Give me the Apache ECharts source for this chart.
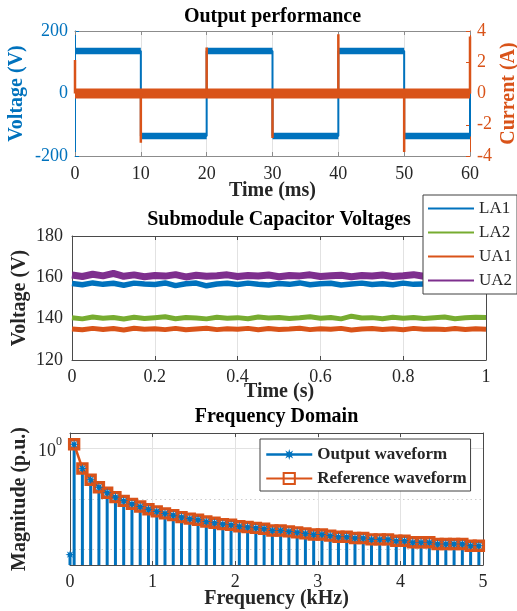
<!DOCTYPE html>
<html><head><meta charset="utf-8">
<script src="https://cdn.jsdelivr.net/npm/echarts@6/dist/echarts.min.js"></script>
<style>html,body{margin:0;padding:0;background:#fff}#c{width:517px;height:611px}</style>
</head><body><div id="c"></div>
<script>
// ---------------- DATA ----------------
// Output performance (top)
const switchTimes = [0, 10, 20, 30, 40, 50, 60];           // ms
const voltageLevels = [136, -136, 136, -136, 136, -136];    // V, one per 10 ms interval
const voltageEnd = 0;                                       // visible end of the last edge at 60 ms
const currentSpikes = [2.15, -3.15, 2.95, -2.85, 3.8, -3.75, 3.65]; // A, at each switch time
const currentBase = 0;                                      // A

// Submodule capacitor voltages (middle)
const capTime = [0,0.025,0.05,0.075,0.1,0.125,0.15,0.175,0.2,0.225,0.25,0.275,0.3,0.325,0.35,0.375,0.4,0.425,0.45,0.475,0.5,0.525,0.55,0.575,0.6,0.625,0.65,0.675,0.7,0.725,0.75,0.775,0.8,0.825,0.85,0.875,0.9,0.925,0.95,0.975,1];
const LA1 = [157.0,156.4,157.3,156.6,157.1,156.2,157.2,156.8,156.5,157.3,156.0,156.9,157.2,155.9,156.8,157.1,156.5,157.2,156.7,156.3,157.0,156.6,157.3,156.4,156.9,157.1,156.3,156.8,157.2,156.5,156.9,156.4,157.2,156.6,156.8,157.0,156.3,156.9,156.5,157.0,156.6];
const LA2 = [140.4,139.9,140.8,140.2,140.6,139.8,140.7,140.1,140.5,140.9,140.0,140.6,140.3,139.9,140.7,140.2,140.5,140.0,140.8,140.3,140.6,140.1,140.4,140.9,140.2,140.6,139.9,141.2,140.3,140.5,140.0,140.7,140.2,140.6,140.1,140.5,140.8,140.0,140.4,140.7,140.6];
const UA1 = [135.0,134.6,135.3,134.8,135.2,134.5,135.4,134.9,135.1,134.7,135.3,134.6,135.0,135.4,134.7,135.1,134.9,135.3,134.6,135.2,134.8,135.0,135.4,134.7,135.1,134.9,135.3,134.5,135.0,135.2,134.8,135.1,134.6,135.3,134.9,135.0,134.7,135.2,134.8,135.1,134.9];
const UA2 = [161.1,160.4,161.5,160.7,161.9,160.5,161.2,160.3,160.9,160.6,161.3,160.2,161.0,160.5,160.8,161.2,160.4,160.9,160.6,161.1,160.3,160.9,160.7,161.2,160.4,160.8,161.0,160.3,160.9,160.6,161.1,160.4,160.8,161.3,160.5,160.7,160.9,160.3,160.6,160.8,160.4];
const capNames = ['LA1', 'LA2', 'UA1', 'UA2'];

// Frequency domain (bottom)
const harmFreq = [0.05,0.15,0.25,0.35,0.45,0.55,0.65,0.75,0.85,0.95,1.05,1.15,1.25,1.35,1.45,1.55,1.65,1.75,1.85,1.95,2.05,2.15,2.25,2.35,2.45,2.55,2.65,2.75,2.85,2.95,3.05,3.15,3.25,3.35,3.45,3.55,3.65,3.75,3.85,3.95,4.05,4.15,4.25,4.35,4.45,4.55,4.65,4.75,4.85,4.95]; // kHz
const refMag = [1.2,0.4,0.24,0.171,0.133,0.109,0.092,0.08,0.071,0.063,0.057,0.052,0.048,0.044,0.041,0.039,0.036,0.034,0.032,0.031,0.029,0.028,0.027,0.026,0.024,0.024,0.023,0.022,0.021,0.020,0.020,0.019,0.018,0.018,0.017,0.017,0.016,0.016,0.016,0.015,0.015,0.014,0.014,0.014,0.013,0.013,0.013,0.013,0.012,0.012];
const outMag = [1.2,0.4,0.24,0.171,0.133,0.109,0.092,0.08,0.071,0.063,0.057,0.052,0.048,0.044,0.041,0.039,0.036,0.034,0.032,0.031,0.029,0.028,0.027,0.026,0.024,0.024,0.023,0.022,0.021,0.020,0.020,0.019,0.018,0.018,0.017,0.017,0.016,0.016,0.016,0.015,0.015,0.014,0.014,0.014,0.013,0.013,0.013,0.013,0.012,0.012];
const dcFreq = 0, dcMag = 0.008;

// ---------------- STYLE ----------------
const FONT = 'Liberation Serif';
const BLUE = '#0072BD', ORANGE = '#D95319', GREEN = '#77AC30', PURPLE = '#7E2F8E';
const DARK = '#262626', AX = '#4a4a4a', AXL = '#8c8c8c', GRIDC = '#e2e2e2';
const MAG_MIN = 0.005, MAG_MAX = 2;

function starPath(n, rOut, rIn) {
  let d = '';
  for (let i = 0; i < 2 * n; i++) {
    const r = i % 2 ? rIn : rOut;
    const a = Math.PI * i / n - Math.PI / 2;
    d += (i ? 'L' : 'M') + (10 + r * Math.cos(a)).toFixed(2) + ' ' + (10 + r * Math.sin(a)).toFixed(2) + ' ';
  }
  return 'path://' + d + 'Z';
}
const STAR = starPath(8, 10, 4.5);

// build series data from arrays
const vBand = [], vStep = [];
for (let i = 0; i < voltageLevels.length; i++) {
  vBand.push([switchTimes[i], voltageLevels[i]], [switchTimes[i + 1], voltageLevels[i]], [switchTimes[i + 1], '-']);
  vStep.push([switchTimes[i], voltageLevels[i]], [switchTimes[i + 1], voltageLevels[i]]);
}
vStep.push([switchTimes[switchTimes.length - 1], voltageEnd]);
const iBand = [[switchTimes[0], currentBase], [switchTimes[switchTimes.length - 1], currentBase]];
const iSpike = [];
switchTimes.forEach((t, k) => { iSpike.push([t, currentBase], [t, currentSpikes[k]], [t, '-']); });

const capSeriesData = [LA1, LA2, UA1, UA2].map(arr => arr.map((v, i) => [capTime[i], v]));
const refData = harmFreq.map((f, i) => [f, refMag[i]]);
const outData = [[dcFreq, dcMag]].concat(harmFreq.map((f, i) => [f, outMag[i]]));

function lbl(color, margin, extra) {
  return Object.assign({ color, fontFamily: FONT, fontSize: 18, margin }, extra || {});
}
function nameStyle(color) {
  return { color, fontFamily: FONT, fontSize: 20, fontWeight: 'bold' };
}
function boxAxis(type, grid, pos, color, opts) {
  return Object.assign({
    type: 'value', gridIndex: grid, position: pos,
    axisLine: { show: true, onZero: false, lineStyle: { color, width: 1 } },
    axisTick: { show: true, inside: true, length: 4, lineStyle: { color } },
    axisLabel: { show: false }, splitLine: { show: false }
  }, opts);
}

const chart = echarts.init(document.getElementById('c'), null, { renderer: 'canvas' });
const option = {
  animation: false,
  backgroundColor: '#fff',
  title: [
    { text: 'Output performance', left: 272.5, top: 7, textAlign: 'center', padding: 0,
      textStyle: { fontFamily: FONT, fontSize: 20, fontWeight: 'bold', color: '#000' } },
    { text: 'Submodule Capacitor Voltages', left: 279, top: 210, textAlign: 'center', padding: 0,
      textStyle: { fontFamily: FONT, fontSize: 20, fontWeight: 'bold', color: '#000' } },
    { text: 'Frequency Domain', left: 276.5, top: 407, textAlign: 'center', padding: 0,
      textStyle: { fontFamily: FONT, fontSize: 20, fontWeight: 'bold', color: '#000' } }
  ],
  grid: [
    { left: 75, top: 31, width: 395, height: 125, outerBoundsMode: 'none' },
    { left: 72, top: 236, width: 414, height: 124, outerBoundsMode: 'none' },
    { left: 70, top: 433, width: 413, height: 132, outerBoundsMode: 'none' }
  ],
  legend: [
    { data: capNames, orient: 'vertical', left: 423, top: 195, padding: [5, 5, 5, 4],
      itemWidth: 46, itemHeight: 14, itemGap: 7, backgroundColor: '#fff',
      borderColor: '#404040', borderWidth: 1, borderRadius: 0,
      lineStyle: { width: 2 }, itemStyle: { opacity: 0 },
      textStyle: { fontFamily: FONT, fontSize: 17, color: DARK, lineHeight: 14 } },
    { data: [{ name: 'Output waveform', lineStyle: { opacity: 1, width: 2.5, color: BLUE } }, { name: 'Reference waveform' }],
      orient: 'vertical', left: 260, top: 439, padding: [7, 4, 4, 5],
      itemWidth: 46, itemHeight: 14, itemGap: 7, backgroundColor: '#fff',
      borderColor: '#404040', borderWidth: 1, borderRadius: 0,
      textStyle: { fontFamily: FONT, fontSize: 17, fontWeight: 'bold', color: DARK, lineHeight: 14 } }
  ],
  xAxis: [
    boxAxis('value', 0, 'bottom', AXL, { min: 0, max: 60, interval: 10,
      axisLabel: lbl(DARK, 9), splitLine: { show: true, lineStyle: { color: GRIDC } },
      name: 'Time (ms)', nameLocation: 'middle', nameGap: 25, nameMoveOverlap: false, nameTextStyle: nameStyle(DARK) }),
    boxAxis('value', 0, 'top', AXL, { min: 0, max: 60, interval: 10 }),
    boxAxis('value', 1, 'bottom', AX, { min: 0, max: 1, interval: 0.2,
      axisLabel: lbl(DARK, 8), splitLine: { show: true, lineStyle: { color: GRIDC } },
      name: 'Time (s)', nameLocation: 'middle', nameGap: 22, nameMoveOverlap: false, nameTextStyle: nameStyle(DARK) }),
    boxAxis('value', 1, 'top', AX, { min: 0, max: 1, interval: 0.2 }),
    boxAxis('value', 2, 'bottom', AX, { min: 0, max: 5, interval: 1,
      axisLabel: lbl(DARK, 8), splitLine: { show: true, lineStyle: { color: GRIDC } },
      name: 'Frequency (kHz)', nameLocation: 'middle', nameGap: 24, nameMoveOverlap: false, nameTextStyle: nameStyle(DARK) }),
    boxAxis('value', 2, 'top', AX, { min: 0, max: 5, interval: 1 })
  ],
  yAxis: [
    boxAxis('value', 0, 'left', BLUE, { min: -200, max: 200, interval: 200,
      axisLabel: lbl(BLUE, 7), splitLine: { show: true, lineStyle: { color: GRIDC } },
      name: 'Voltage (V)', nameLocation: 'middle', nameGap: 48, nameMoveOverlap: false, nameTextStyle: nameStyle(BLUE) }),
    boxAxis('value', 0, 'right', ORANGE, { min: -4, max: 4, interval: 2,
      axisLabel: lbl(ORANGE, 7),
      name: 'Current (A)', nameLocation: 'middle', nameGap: 29, nameMoveOverlap: false, nameTextStyle: nameStyle(ORANGE) }),
    boxAxis('value', 1, 'left', AX, { min: 120, max: 180, interval: 20,
      axisLabel: lbl(DARK, 9), splitLine: { show: true, lineStyle: { color: GRIDC } },
      name: 'Voltage (V)', nameLocation: 'middle', nameGap: 42, nameMoveOverlap: false, nameTextStyle: nameStyle(DARK) }),
    boxAxis('value', 1, 'right', AX, { min: 120, max: 180, interval: 20 }),
    boxAxis('log', 2, 'left', AX, { type: 'log', logBase: 10, min: MAG_MIN, max: MAG_MAX,
      axisTick: { show: false },
      axisLabel: lbl(DARK, 8, {
        formatter: v => (Math.abs(Math.log10(v)) < 1e-6 ? '{b|10}{s|0}' : ''),
        rich: { b: { fontFamily: FONT, fontSize: 18, color: DARK, padding: [6, 0, 0, 0] },
                s: { fontFamily: FONT, fontSize: 12, color: DARK, verticalAlign: 'top' } } }),
      splitLine: { show: true, lineStyle: { color: '#cfcfcf', type: [1.5, 3] } },
      name: 'Magnitude (p.u.)', nameLocation: 'middle', nameGap: 40, nameMoveOverlap: false, nameTextStyle: nameStyle(DARK) }),
    boxAxis('log', 2, 'right', AX, { type: 'log', logBase: 10, min: MAG_MIN, max: MAG_MAX, axisTick: { show: false } })
  ],
  series: [
    // top chart
    { type: 'line', name: 'vStep', xAxisIndex: 0, yAxisIndex: 0, data: vStep, symbol: 'none', z: 2,
      lineStyle: { color: BLUE, width: 2 } },
    { type: 'line', name: 'vBand', xAxisIndex: 0, yAxisIndex: 0, data: vBand, symbol: 'none', z: 2,
      connectNulls: false, lineStyle: { color: BLUE, width: 6.5, cap: 'butt' } },
    { type: 'line', name: 'iBand', xAxisIndex: 0, yAxisIndex: 1, data: iBand, symbol: 'none', z: 3,
      lineStyle: { color: ORANGE, width: 10, cap: 'butt' } },
    { type: 'line', name: 'iSpike', xAxisIndex: 0, yAxisIndex: 1, data: iSpike, symbol: 'none', z: 3,
      connectNulls: false, lineStyle: { color: ORANGE, width: 2.5 } },
    // middle chart
    ...capNames.map((n, k) => ({
      type: 'line', name: n, xAxisIndex: 2, yAxisIndex: 2, data: capSeriesData[k], symbol: 'none', z: 2,
      color: [BLUE, GREEN, ORANGE, PURPLE][k],
      lineStyle: { color: [BLUE, GREEN, ORANGE, PURPLE][k], width: [5.5, 5, 5, 7][k] }
    })),
    // bottom chart
    { type: 'line', name: 'grid10', xAxisIndex: 4, yAxisIndex: 4, data: [], z: 1,
      markLine: { silent: true, z: 1, symbol: 'none', label: { show: false },
        lineStyle: { color: GRIDC, type: 'solid', width: 1 }, data: [{ yAxis: 1 }] } },
    { type: 'custom', name: 'stems', xAxisIndex: 4, yAxisIndex: 4, data: outData, z: 2,
      encode: { x: 0, y: 1 },
      renderItem: (params, api) => {
        const top = api.coord([api.value(0), api.value(1)]);
        const bot = api.coord([api.value(0), MAG_MIN]);
        return { type: 'line', shape: { x1: top[0], y1: top[1], x2: bot[0], y2: bot[1] },
          style: { stroke: BLUE, lineWidth: 3 } };
      } },
    { type: 'line', name: 'Reference waveform', xAxisIndex: 4, yAxisIndex: 4, data: refData, z: 3,
      symbol: 'rect', symbolSize: 9, color: ORANGE,
      itemStyle: { color: 'rgba(255,255,255,0)', borderColor: ORANGE, borderWidth: 3.4 },
      lineStyle: { color: ORANGE, width: 2.5 } },
    { type: 'line', name: 'Output waveform', xAxisIndex: 4, yAxisIndex: 4, data: outData, z: 4,
      symbol: STAR, symbolSize: 9, color: BLUE,
      itemStyle: { color: BLUE },
      lineStyle: { color: BLUE, width: 2, opacity: 0 } }
  ]
};
chart.setOption(option);
</script>
</body></html>
